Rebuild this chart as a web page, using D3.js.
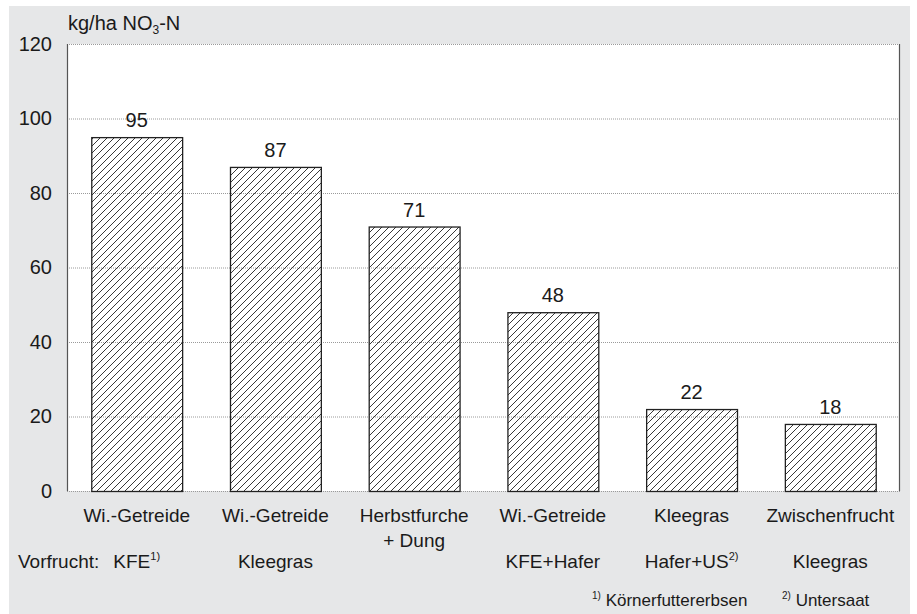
<!DOCTYPE html>
<html lang="de">
<head>
<meta charset="utf-8">
<title>Nitrat Herbst</title>
<script src="https://cdn.jsdelivr.net/npm/d3@7"></script>
<style>
  body { margin: 0; background: #fff; }
  text { font-family: "Liberation Sans Narrow", "Liberation Sans", sans-serif; fill: #1a1a1a; }
</style>
</head>
<body>
<script>
// values
var kultur = ["Wi.-Getreide", "Wi.-Getreide", "Herbstfurche", "Wi.-Getreide", "Kleegras", "Zwischenfrucht"];
var kultur2 = ["", "", "+ Dung", "", "", ""];
var vorfrucht = ["KFE", "Kleegras", "", "KFE+Hafer", "Hafer+US", "Kleegras"];
var fussnote = ["1)", "", "", "", "2)", ""];
var nitrat = [95, 87, 71, 48, 22, 18];
var yTicks = [0, 20, 40, 60, 80, 100, 120];

var W = 917, H = 614;
var mLeft = 67, mRight = 900, mTop = 44, mBottom = 491;

var svg = d3.select("body").append("svg")
    .attr("width", W)
    .attr("height", H);

// hatch pattern
var pat = svg.append("defs").append("pattern")
    .attr("id", "hatch")
    .attr("patternUnits", "userSpaceOnUse")
    .attr("width", 7).attr("height", 7);
pat.append("path")
    .attr("d", "M-1,1 l2,-2 M0,7 l7,-7 M6,8 l2,-2")
    .attr("stroke", "#222").attr("stroke-width", 0.9);

// grey panel
svg.append("rect")
    .attr("x", 9).attr("y", 6)
    .attr("width", 901).attr("height", 608)
    .attr("fill", "#e6e7e8");

svg.append("rect")
    .attr("x", mLeft).attr("y", mTop)
    .attr("width", mRight - mLeft).attr("height", mBottom - mTop)
    .attr("fill", "#fff");

var x = d3.scaleBand()
    .domain(d3.range(nitrat.length))
    .range([mLeft, mRight])
    .paddingInner(0.345)
    .paddingOuter(0.175);

var y = d3.scaleLinear()
    .domain([0, 120])
    .range([mBottom, mTop]);

// grid lines
svg.append("g").selectAll("line")
    .data(yTicks)
    .join("line")
    .attr("x1", mLeft).attr("x2", mRight)
    .attr("y1", function(d) { return y(d) + 0.5; })
    .attr("y2", function(d) { return y(d) + 0.5; })
    .attr("stroke", "#9a9a9a")
    .attr("stroke-width", 1)
    .attr("stroke-dasharray", "1,1");

// frame sides
svg.append("line")
    .attr("x1", mLeft + 0.5).attr("x2", mLeft + 0.5)
    .attr("y1", mTop).attr("y2", mBottom)
    .attr("stroke", "#555").attr("stroke-width", 1.2);
svg.append("line")
    .attr("x1", mRight - 0.5).attr("x2", mRight - 0.5)
    .attr("y1", mTop).attr("y2", mBottom)
    .attr("stroke", "#555").attr("stroke-width", 1.2);

// y axis labels
var yAxis = d3.axisLeft(y).tickValues(yTicks).tickSize(0).tickPadding(15);
var gy = svg.append("g")
    .attr("transform", "translate(" + mLeft + ",0)")
    .call(yAxis);
gy.select(".domain").remove();
gy.selectAll("text")
    .attr("font-size", 20)
    .attr("fill", "#1a1a1a")
    .style("font-family", "'Liberation Sans Narrow', 'Liberation Sans', sans-serif");

// unit
var unit = svg.append("text")
    .attr("x", 68).attr("y", 30)
    .attr("font-size", 20);
unit.append("tspan").text("kg/ha NO");
unit.append("tspan").attr("font-size", 12).attr("dy", 4).text("3");
unit.append("tspan").attr("dy", -4).text("-N");

// bars
svg.append("g").selectAll("rect")
    .data(nitrat)
    .join("rect")
    .attr("x", function(d, i) { return x(i) + 0.5; })
    .attr("y", function(d) { return y(d) + 0.5; })
    .attr("width", x.bandwidth())
    .attr("height", function(d) { return y(0) - y(d); })
    .attr("fill", "url(#hatch)")
    .attr("stroke", "#222")
    .attr("stroke-width", 1.3);

// value labels
svg.append("g").selectAll("text")
    .data(nitrat)
    .join("text")
    .attr("x", function(d, i) { return x(i) + x.bandwidth() / 2; })
    .attr("y", function(d) { return y(d) - 10; })
    .attr("text-anchor", "middle")
    .attr("font-size", 20)
    .text(function(d) { return d; });

// category labels
var cx = function(d, i) { return x(i) + x.bandwidth() / 2; };
svg.append("g").selectAll("text")
    .data(kultur)
    .join("text")
    .attr("x", cx)
    .attr("y", 522)
    .attr("text-anchor", "middle")
    .attr("font-size", 19)
    .text(function(d) { return d; });

svg.append("g").selectAll("text")
    .data(kultur2)
    .join("text")
    .attr("x", cx)
    .attr("y", 547)
    .attr("text-anchor", "middle")
    .attr("font-size", 19)
    .text(function(d) { return d; });

svg.append("text")
    .attr("x", 18).attr("y", 568)
    .attr("font-size", 19)
    .text("Vorfrucht:");

var vf = svg.append("g").selectAll("text")
    .data(vorfrucht)
    .join("text")
    .attr("x", cx)
    .attr("y", 568)
    .attr("text-anchor", "middle")
    .attr("font-size", 19);
vf.append("tspan").text(function(d) { return d; });
vf.append("tspan")
    .attr("font-size", 11)
    .attr("dy", -8)
    .text(function(d, i) { return fussnote[i]; });

// footnotes
var fn = svg.append("text")
    .attr("x", 592).attr("y", 606)
    .attr("font-size", 17);
fn.append("tspan").attr("font-size", 10).attr("dy", -7).text("1)");
fn.append("tspan").attr("dy", 7).text(" Körnerfuttererbsen");
var fn2 = svg.append("text")
    .attr("x", 782).attr("y", 606)
    .attr("font-size", 17);
fn2.append("tspan").attr("font-size", 10).attr("dy", -7).text("2)");
fn2.append("tspan").attr("dy", 7).text(" Untersaat");
</script>
</body>
</html>
